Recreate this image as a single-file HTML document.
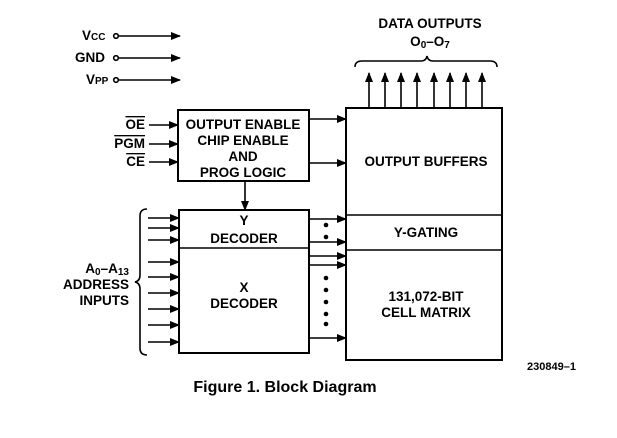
<!DOCTYPE html><html><head><style>body{margin:0;background:#fff}</style></head><body>
<svg width="617" height="433" viewBox="0 0 617 433" xmlns="http://www.w3.org/2000/svg" font-family="Liberation Sans, sans-serif" font-weight="bold" fill="#000">
<defs><marker id="a" markerWidth="10" markerHeight="8" refX="9" refY="4" orient="auto" markerUnits="userSpaceOnUse"><path d="M0,0 L10,4 L0,8 z"/></marker></defs>
<g stroke="#000" stroke-width="1.6" fill="none">
<circle cx="116" cy="36" r="2.3"/><circle cx="116" cy="58" r="2.3"/><circle cx="116" cy="80" r="2.3"/>
<g marker-end="url(#a)">
<line x1="119" y1="36" x2="180" y2="36"/><line x1="119" y1="58" x2="180" y2="58"/><line x1="119" y1="80" x2="180" y2="80"/>
<line x1="149" y1="125" x2="178" y2="125"/><line x1="149" y1="144" x2="178" y2="144"/><line x1="149" y1="162" x2="178" y2="162"/>
<line x1="309" y1="119" x2="346" y2="119"/><line x1="309" y1="163" x2="346" y2="163"/>
<line x1="245" y1="182" x2="245" y2="210"/>
<line x1="148" y1="218" x2="179" y2="218"/><line x1="148" y1="228" x2="179" y2="228"/><line x1="148" y1="240" x2="179" y2="240"/>
<line x1="148" y1="262" x2="179" y2="262"/><line x1="148" y1="277" x2="179" y2="277"/><line x1="148" y1="293" x2="179" y2="293"/>
<line x1="148" y1="309" x2="179" y2="309"/><line x1="148" y1="325" x2="179" y2="325"/><line x1="148" y1="342" x2="179" y2="342"/>
<line x1="309" y1="219" x2="346" y2="219"/><line x1="309" y1="242" x2="346" y2="242"/><line x1="309" y1="256" x2="346" y2="256"/>
<line x1="309" y1="265" x2="346" y2="265"/><line x1="309" y1="338" x2="346" y2="338"/>
<line x1="369" y1="108" x2="369" y2="73"/><line x1="385" y1="108" x2="385" y2="73"/><line x1="401" y1="108" x2="401" y2="73"/><line x1="417" y1="108" x2="417" y2="73"/>
<line x1="434" y1="108" x2="434" y2="73"/><line x1="450" y1="108" x2="450" y2="73"/><line x1="466" y1="108" x2="466" y2="73"/><line x1="482" y1="108" x2="482" y2="73"/>
</g>
<rect x="178" y="110" width="131" height="71" stroke-width="2"/>
<rect x="179" y="210" width="130" height="143" stroke-width="2"/><line x1="179" y1="248" x2="309" y2="248"/>
<rect x="346" y="108" width="156" height="252" stroke-width="2"/><line x1="346" y1="215" x2="502" y2="215"/><line x1="346" y1="250" x2="502" y2="250"/>
<path d="M355,67 Q355,61 362,61 L421,61 Q426,61 427,56 Q428,61 433,61 L490,61 Q497,61 497,67"/>
<path d="M147,209 Q140,209 140,216 L140,275 Q140,281 135,282 Q140,283 140,289 L140,348 Q140,355 147,355"/>
</g>
<g>
<circle cx="326" cy="225" r="2.3"/><circle cx="326" cy="237" r="2.3"/>
<circle cx="326" cy="278" r="2.3"/><circle cx="326" cy="290" r="2.3"/><circle cx="326" cy="302" r="2.3"/><circle cx="326" cy="314" r="2.3"/><circle cx="326" cy="324" r="2.3"/>
</g>
<g font-size="13.5">
<text x="82" y="40">V<tspan font-size="10">CC</tspan></text>
<text x="75" y="62">GND</text>
<text x="86" y="84">V<tspan font-size="10">PP</tspan></text>
<text x="145" y="129" text-anchor="end" text-decoration="overline">OE</text>
<text x="145" y="148" text-anchor="end" text-decoration="overline">PGM</text>
<text x="145" y="166" text-anchor="end" text-decoration="overline">CE</text>
<text x="243" y="129" text-anchor="middle">OUTPUT ENABLE</text>
<text x="243" y="145" text-anchor="middle">CHIP ENABLE</text>
<text x="243" y="161" text-anchor="middle">AND</text>
<text x="243" y="177" text-anchor="middle">PROG LOGIC</text>
<text x="244" y="225" text-anchor="middle">Y</text>
<text x="244" y="243" text-anchor="middle">DECODER</text>
<text x="244" y="292" text-anchor="middle">X</text>
<text x="244" y="308" text-anchor="middle">DECODER</text>
<text x="426" y="166" text-anchor="middle">OUTPUT BUFFERS</text>
<text x="426" y="237" text-anchor="middle">Y-GATING</text>
<text x="426" y="301" text-anchor="middle">131,072-BIT</text>
<text x="426" y="317" text-anchor="middle">CELL MATRIX</text>
<text x="430" y="28" text-anchor="middle">DATA OUTPUTS</text>
<text x="430" y="46" text-anchor="middle">O<tspan font-size="10" dy="2">0</tspan><tspan dy="-2">–O</tspan><tspan font-size="10" dy="2">7</tspan></text>
<text x="129" y="273" text-anchor="end">A<tspan font-size="10" dy="2">0</tspan><tspan dy="-2">–A</tspan><tspan font-size="10" dy="2">13</tspan></text>
<text x="129" y="289" text-anchor="end">ADDRESS</text>
<text x="129" y="305" text-anchor="end">INPUTS</text>
<text x="527" y="370" font-size="11">230849–1</text>
<text x="285" y="392" text-anchor="middle" font-size="16">Figure 1. Block Diagram</text>
</g>
</svg></body></html>
